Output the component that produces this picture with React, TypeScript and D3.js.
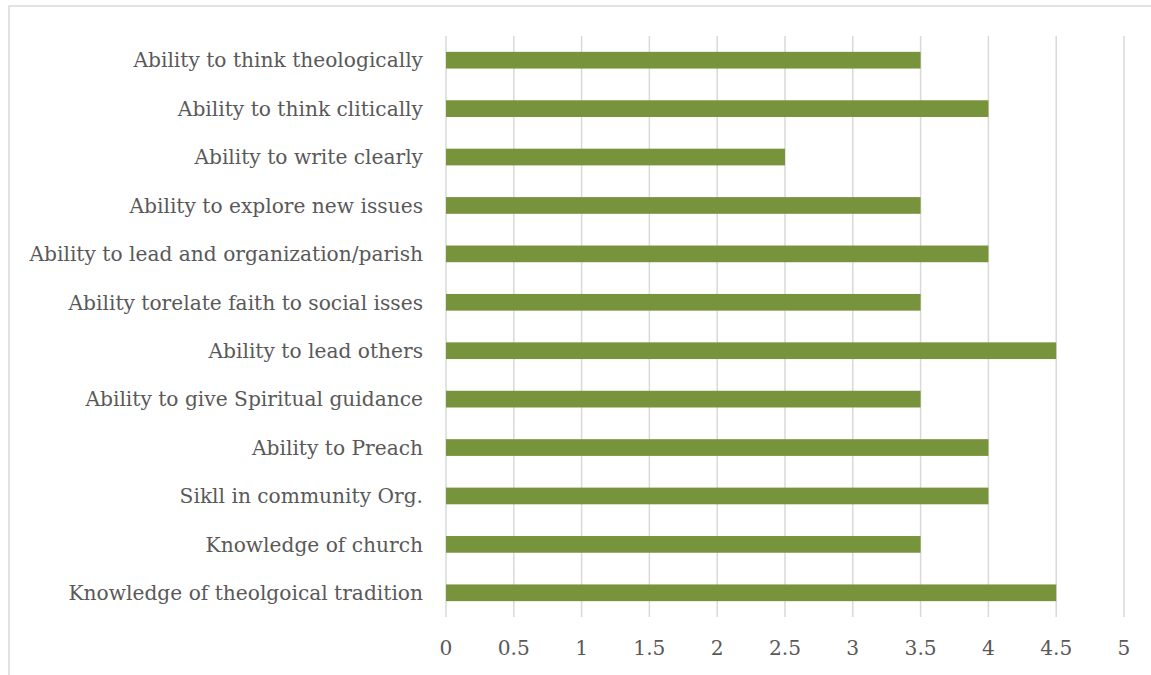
import React from "react";
import * as d3 from "d3";

const categories: string[] = [
  "Ability to think theologically",
  "Ability to think clitically",
  "Ability to write clearly",
  "Ability to explore new issues",
  "Ability to lead and organization/parish",
  "Ability torelate faith to social isses",
  "Ability to lead others",
  "Ability to give Spiritual guidance",
  "Ability to Preach",
  "Sikll in community Org.",
  "Knowledge of church",
  "Knowledge of theolgoical tradition",
];
const values: number[] = [3.5, 4, 2.5, 3.5, 4, 3.5, 4.5, 3.5, 4, 4, 3.5, 4.5];
const tickValues: number[] = [0, 0.5, 1, 1.5, 2, 2.5, 3, 3.5, 4, 4.5, 5];

const W = 1151;
const H = 675;
const FONT = "'DejaVu Serif', 'Liberation Serif', serif";

export default function App() {
  const x = d3.scaleLinear().domain([0, 5]).range([446, 1124]);
  const y = d3.scaleBand<string>().domain(categories).range([36, 617]).paddingInner(0.655).paddingOuter(0.3275);
  return (
    <svg width={W} height={H} style={{ position: "absolute", left: 0, top: 0, background: "#fff" }}>
      <rect x={9} y={6} width={W + 20} height={H + 20} fill="#fff" stroke="#d9d9d9" strokeWidth={1.5} />
      {tickValues.map((t) => (
        <line key={"g" + t} x1={x(t)} x2={x(t)} y1={36} y2={617} stroke="#d9d9d9" strokeWidth={1.5} />
      ))}
      {categories.map((c, i) => (
        <rect key={c} x={x(0)} y={y(c)} width={x(values[i]) - x(0)} height={y.bandwidth()} fill="#77933C" />
      ))}
      {categories.map((c) => (
        <text key={"l" + c} x={423} y={(y(c) as number) + y.bandwidth() / 2} dy="0.36em" textAnchor="end"
          fontFamily={FONT} fontSize={20.2} fill="#595959">{c}</text>
      ))}
      {tickValues.map((t) => (
        <text key={"t" + t} x={x(t)} y={648} dy="0.36em" textAnchor="middle" fontFamily={FONT} fontSize={20.2} fill="#595959">{t}</text>
      ))}
    </svg>
  );
}
